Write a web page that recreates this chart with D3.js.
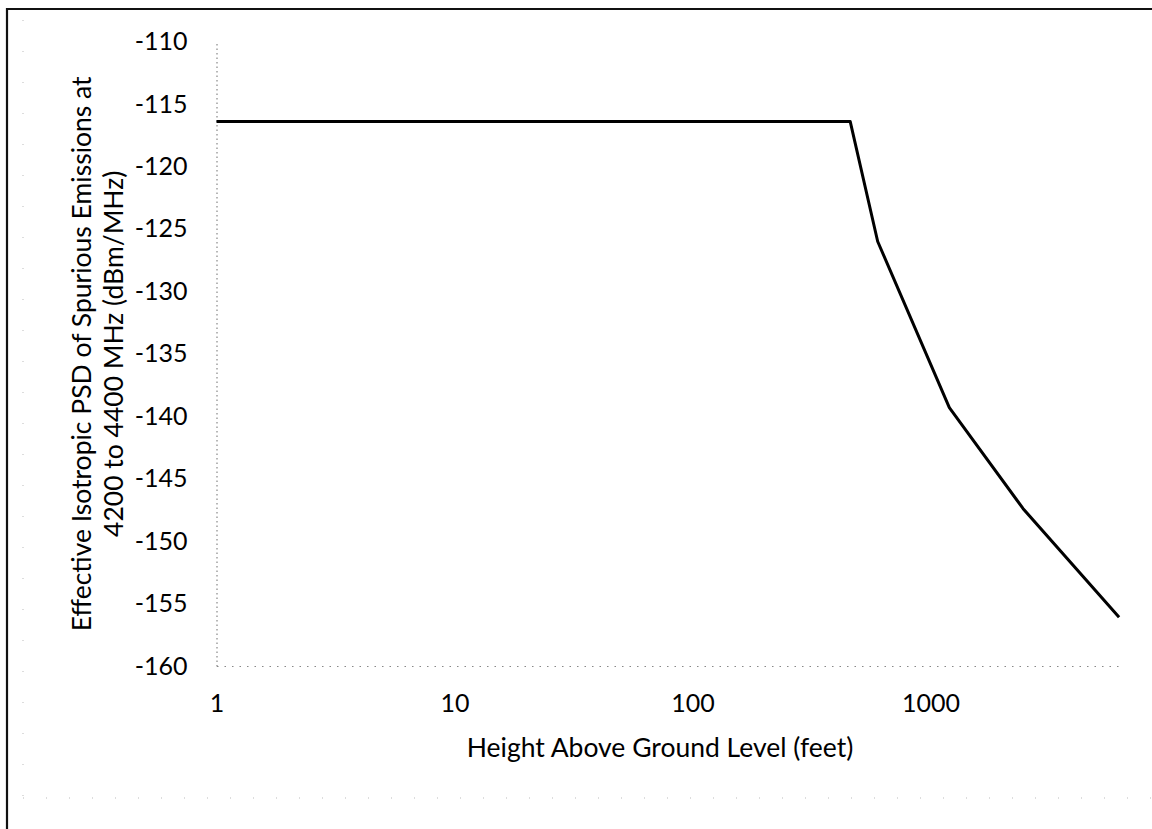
<!DOCTYPE html>
<html>
<head>
<meta charset="utf-8">
<script src="https://cdn.jsdelivr.net/npm/d3@7"></script>
<style>
  html, body { margin: 0; padding: 0; background: #fff; }
  svg { display: block; }
  text { font-family: Lato, "Open Sans", sans-serif; fill: #000; }
</style>
</head>
<body>
<svg id="chart" width="1152" height="829"></svg>
<script>
// Height above ground level (feet) and effective isotropic PSD (dBm/MHz)
const heights = [1, 460, 600, 1200, 2450, 6200];
const psd = [-116.4, -116.4, -126.0, -139.3, -147.4, -156.1];

const xTicks = [1, 10, 100, 1000];
const yTicks = [-110, -115, -120, -125, -130, -135, -140, -145, -150, -155, -160];

const xTitle = "Height Above Ground Level (feet)";
const yTitleLines = ["Effective Isotropic PSD of Spurious Emissions at", "4200 to 4400 MHz (dBm/MHz)"];

(function draw() {
  const W = 1152, H = 829;
  const svg = d3.select("#chart");

  // plot area
  const plotLeft = 216.5, plotTop = 41.7, plotBottom = 666;
  const decade = 238;
  const xMax = d3.max(heights);
  const x = d3.scaleLog().domain([1, xMax]).range([plotLeft, plotLeft + decade * Math.log10(xMax)]);
  const y = d3.scaleLinear().domain([-160, -110]).range([plotBottom, plotTop]);

  // plain hyphen for negative numbers
  const fmt = d => String(d);

  // page frame (top and left edges)
  svg.append("line").attr("x1", 6).attr("y1", 9).attr("x2", W).attr("y2", 9)
    .attr("stroke", "#111").attr("stroke-width", 2.2);
  svg.append("line").attr("x1", 7).attr("y1", 8).attr("x2", 7).attr("y2", H)
    .attr("stroke", "#111").attr("stroke-width", 2.2);

  // faint chart border
  svg.append("line").attr("x1", 23).attr("y1", 20).attr("x2", 23).attr("y2", 798)
    .attr("stroke", "#bbb").attr("stroke-width", 1).attr("stroke-dasharray", "1 30");
  svg.append("line").attr("x1", 23).attr("y1", 798).attr("x2", W).attr("y2", 798)
    .attr("stroke", "#bbb").attr("stroke-width", 1).attr("stroke-dasharray", "1 22");

  // axes
  const xAxis = d3.axisBottom(x).tickValues(xTicks).tickFormat(fmt).tickSize(0).tickPadding(28);
  const gx = svg.append("g").attr("transform", `translate(0,${plotBottom})`).call(xAxis);
  gx.select(".domain").attr("stroke", "#888").attr("stroke-width", 1.2).attr("stroke-dasharray", "1.5 6");
  gx.selectAll(".tick text").attr("font-size", 25).attr("font-family", "Lato, sans-serif").attr("fill", "#000");

  const yAxis = d3.axisLeft(y).tickValues(yTicks).tickFormat(fmt).tickSize(0).tickPadding(29);
  const gy = svg.append("g").attr("transform", `translate(${plotLeft},0)`).call(yAxis);
  gy.select(".domain").attr("stroke", "#888").attr("stroke-width", 1.2).attr("stroke-dasharray", "1.5 3");
  gy.selectAll(".tick text").attr("font-size", 25).attr("font-family", "Lato, sans-serif").attr("fill", "#000");

  // series line
  const pts = heights.map((h, i) => [h, psd[i]]);
  const line = d3.line().x(d => x(d[0])).y(d => y(d[1]));
  svg.append("path").datum(pts).attr("d", line)
    .attr("fill", "none").attr("stroke", "#000").attr("stroke-width", 3).attr("stroke-linejoin", "round");

  // axis titles
  svg.append("text").attr("x", 660).attr("y", 757).attr("text-anchor", "middle")
    .attr("font-size", 26.5).text(xTitle);

  const yMid = (plotTop + plotBottom) / 2;
  const yt = svg.append("g").attr("transform", `translate(0,${yMid}) rotate(-90)`);
  yTitleLines.forEach((t, i) => {
    yt.append("text").attr("x", 0).attr("y", 91 + i * 32).attr("text-anchor", "middle")
      .attr("font-size", 26.5).text(t);
  });
})();
</script>
</body>
</html>
